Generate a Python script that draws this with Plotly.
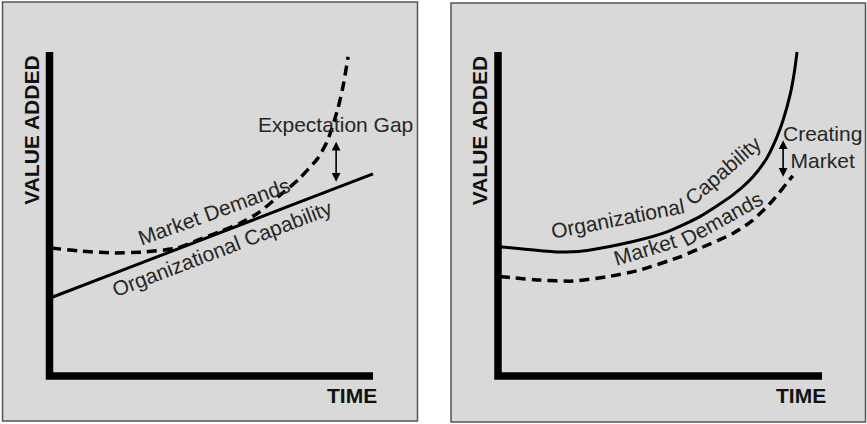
import plotly.graph_objects as go

# ---------------- data ----------------
# Left panel: "Expectation Gap"
left_cap_x = [0.0, 2.5, 5.0, 7.5, 10.0]
left_cap_y = [2.40, 3.36, 4.32, 5.28, 6.24]
left_dem_x = [0.05, 0.9, 1.9, 2.95, 3.95, 4.6, 5.3, 5.9, 6.45, 7.05, 7.7, 8.3, 8.6, 8.9, 9.07, 9.23]
left_dem_y = [3.95, 3.86, 3.80, 3.83, 3.95, 4.20, 4.47, 4.72, 5.03, 5.52, 6.07, 6.73, 7.28, 8.20, 8.92, 9.85]
left_gap_x = 8.86
left_gap_y = [5.95, 7.23]

# Right panel: "Creating Market"
right_cap_x = [0.05, 0.77, 1.82, 2.5, 3.15, 4.17, 5.22, 6.23, 7.25, 7.87, 8.3, 8.61, 8.8, 9.02, 9.15, 9.23]
right_cap_y = [3.99, 3.92, 3.83, 3.84, 3.94, 4.15, 4.45, 4.92, 5.59, 6.15, 6.73, 7.38, 7.90, 8.70, 9.40, 10.0]
right_dem_x = [0.05, 1.3, 2.31, 3.36, 4.38, 5.62, 6.23, 7.25, 7.87, 8.49, 8.92, 9.1]
right_dem_y = [3.07, 2.96, 2.93, 3.06, 3.27, 3.68, 3.94, 4.40, 4.81, 5.43, 5.96, 6.18]
right_gap_x = 8.8
right_gap_y = [6.10, 7.28]

# Text labels
axis_y_label = "VALUE ADDED"
axis_x_label = "TIME"
label_demands = "Market Demands"
label_capability = "Organizational Capability"
label_gap = "Expectation Gap"
label_creating = "Creating<br>Market"

# ---------------- figure ----------------
W, H = 867, 424
FONT = "Liberation Sans, Arial, Helvetica, sans-serif"
TXT = "#262626"
BG = "#d9d9d9"
FS = 21

fig = go.Figure()

def add_curve(xs, ys, xa, ya, dash):
    fig.add_trace(go.Scatter(
        x=xs, y=ys, mode="lines", xaxis=xa, yaxis=ya,
        line=dict(color="black", width=3 if dash == "solid" else 3.5, dash=dash,
                  shape="spline", smoothing=0.6),
        hoverinfo="skip", showlegend=False, cliponaxis=False))

add_curve(left_cap_x, left_cap_y, "x", "y", "solid")
add_curve(left_dem_x, left_dem_y, "x", "y", "10px,6px")
add_curve(right_cap_x, right_cap_y, "x2", "y2", "solid")
add_curve(right_dem_x, right_dem_y, "x2", "y2", "10px,6px")

# axis frames: origin pixel and pixels per unit; ranges padded so labels stay inside
LO, HI = -1.2, 11.3
def xdom(origin_px, ppu):
    return [max(0, (origin_px + LO * ppu) / W), min(1, (origin_px + HI * ppu) / W)]

YO, YPPU = 376, 32.4
ylo, yhi = -1.2, 11.0
ydomain = [(H - YO + ylo * YPPU) / H, (H - YO + yhi * YPPU) / H]
fig.update_layout(
    width=W, height=H,
    margin=dict(l=0, r=0, t=0, b=0),
    paper_bgcolor="white", plot_bgcolor="rgba(0,0,0,0)",
    xaxis=dict(domain=xdom(49.5, 32.35), range=[LO, HI], visible=False, fixedrange=True),
    yaxis=dict(domain=ydomain, range=[ylo, yhi], visible=False, fixedrange=True),
    xaxis2=dict(domain=xdom(498, 32.4), range=[LO, HI], visible=False, fixedrange=True),
    yaxis2=dict(domain=ydomain, range=[ylo, yhi], visible=False, anchor="x2", fixedrange=True),
)

shapes = []
for x0, x1, y0, y1 in [(2.5, 417.5, 2, 421), (451, 865.5, 3, 422)]:
    shapes.append(dict(type="rect", xref="paper", yref="paper", layer="below",
                       x0=x0 / W, x1=x1 / W, y0=1 - y1 / H, y1=1 - y0 / H,
                       fillcolor=BG, line=dict(color="#555555", width=1.5)))
for xr, yr in [("x", "y"), ("x2", "y2")]:
    shapes.append(dict(type="path", xref=xr, yref=yr, path="M 0,10 L 0,0 L 10,0",
                       line=dict(color="black", width=7.5)))
fig.update_layout(shapes=shapes)

ann = []
def text(x, y, s, xr, yr, size=FS, angle=0, bold=False):
    ann.append(dict(x=x, y=y, xref=xr, yref=yr, text=("<b>%s</b>" % s) if bold else s,
                    showarrow=False, textangle=angle, xanchor="center", yanchor="middle",
                    font=dict(family=FONT, size=size, color="#111111" if bold else TXT)))

def gap_arrow(x, ys, xr, yr):
    ann.append(dict(x=x, y=ys[1], ax=x, ay=ys[0], xref=xr, yref=yr, axref=xr, ayref=yr,
                    text="", showarrow=True, arrowhead=2, arrowside="end+start",
                    arrowsize=1.1, arrowwidth=1.6, arrowcolor="black", standoff=0, startstandoff=0))

for xr, yr in [("x", "y"), ("x2", "y2")]:
    text(-0.56, 7.58, axis_y_label, xr, yr, size=21, angle=-90, bold=True)
    text(9.36, -0.61, axis_x_label, xr, yr, size=21, bold=True)

# left panel labels
text(5.08, 5.08, label_demands, "x", "y", angle=-20)
text(5.33, 3.95, label_capability, "x", "y", angle=-21)
text(8.83, 7.77, label_gap, "x", "y")
gap_arrow(left_gap_x, left_gap_y, "x", "y")

# right panel labels (curved text approximated word by word)
cap_words = label_capability.split(" ")
dem_words = label_demands.split(" ")
text(3.70, 4.86, cap_words[0], "x2", "y2", angle=-11)
text(6.95, 6.33, cap_words[1], "x2", "y2", angle=-41)
text(4.53, 3.90, dem_words[0], "x2", "y2", angle=-17)
text(6.92, 4.85, dem_words[1], "x2", "y2", angle=-29)
ann.append(dict(x=10.03, y=7.07, xref="x2", yref="y2", text=label_creating, showarrow=False,
                xanchor="center", yanchor="middle", align="center",
                font=dict(family=FONT, size=FS, color=TXT)))
gap_arrow(right_gap_x, right_gap_y, "x2", "y2")

fig.update_layout(annotations=ann)
fig.write_html("out.html", config=dict(displayModeBar=False, staticPlot=True),
               post_script="document.body.style.margin='0';document.body.style.padding='0';")
